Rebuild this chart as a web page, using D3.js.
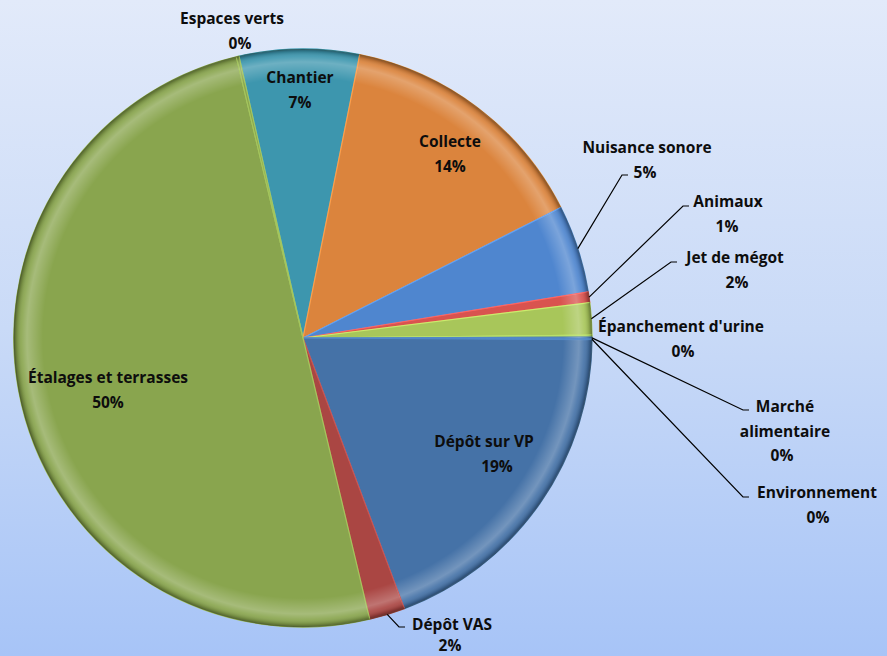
<!DOCTYPE html>
<html lang="fr">
<head>
<meta charset="UTF-8">
<title>Répartition des verbalisations</title>
<style>
  html, body { margin: 0; padding: 0; }
  body { width: 887px; height: 656px; overflow: hidden; }
  svg { display: block; }
  .lbl { font-family: "Open Sans", Lato, sans-serif; font-weight: bold; font-size: 15.5px; fill: #0d0d0d; }
</style>
</head>
<body>
<div id="chart"></div>
<script src="https://cdn.jsdelivr.net/npm/d3@7"></script>
<script>
// données (ordre des parts, dans le sens horaire)
var categories = ['Chantier', 'Collecte', 'Nuisance sonore', 'Animaux', 'Jet de mégot',
  "Épanchement d'urine", 'Marché alimentaire', 'Environnement', 'Dépôt sur VP',
  'Dépôt VAS', 'Étalages et terrasses', 'Espaces verts'];
var values = [6.7, 14.4, 4.9, 0.6, 1.8, 0.1, 0.1, 0.05, 19.2, 2.0, 50.0, 0.15];
var colors = ['#3d96ae', '#db843d', '#4f86cf', '#d9534f', '#a8c65a', '#9bbb59',
  '#4572a7', '#4572a7', '#4572a7', '#aa4643', '#89a54e', '#89a54e'];

var width = 887, height = 656;
var cx = 303, cy = 338, R = 289;
var startDeg = -12.8;

// position des étiquettes (lignes de texte, centre) et ligne de rappel
var labelPos = {
  'Chantier': { x: 300, y: 77, lines: ['Chantier'] },
  'Collecte': { x: 450, y: 141, lines: ['Collecte'] },
  'Nuisance sonore': { x: 647, y: 147, lines: ['Nuisance sonore'], px: 645, lead: [622, 175] },
  'Animaux': { x: 728, y: 201, lines: ['Animaux'], lead: [683, 206], px: 727 },
  'Jet de mégot': { x: 735, y: 257, lines: ['Jet de mégot'], lead: [671, 262], px: 737 },
  "Épanchement d'urine": { x: 681, y: 326, lines: ["Épanchement d'urine"], px: 683 },
  'Marché alimentaire': { x: 785, y: 406, lines: ['Marché', 'alimentaire'], lead: [743, 410], px: 782 },
  'Environnement': { x: 817, y: 492, lines: ['Environnement'], lead: [743, 497], px: 818 },
  'Dépôt sur VP': { x: 484, y: 441, lines: ['Dépôt sur VP'], px: 497 },
  'Dépôt VAS': { x: 452, y: 624, lines: ['Dépôt VAS'], lead: [399, 627], px: 450, lh: 21 },
  'Étalages et terrasses': { x: 108, y: 377, lines: ['Étalages et terrasses'] },
  'Espaces verts': { x: 232, y: 18, lines: ['Espaces verts'], px: 240 }
};

var svg = d3.select('#chart').append('svg')
  .attr('width', width)
  .attr('height', height);

var defs = svg.append('defs');

// fond dégradé bleu
var bg = defs.append('linearGradient').attr('id', 'bg')
  .attr('x1', 0).attr('y1', 0).attr('x2', 0).attr('y2', 1);
bg.append('stop').attr('offset', '0%').attr('stop-color', '#e2eafa');
bg.append('stop').attr('offset', '50%').attr('stop-color', '#c9daf7');
bg.append('stop').attr('offset', '100%').attr('stop-color', '#a7c4f7');

svg.append('rect').attr('width', width).attr('height', height).attr('fill', 'url(#bg)');

// effet biseau sur le bord
var bevel = defs.append('radialGradient').attr('id', 'bevel')
  .attr('gradientUnits', 'userSpaceOnUse')
  .attr('cx', 0).attr('cy', 0).attr('r', R);
[[0, '#ffffff', 0], [0.9, '#ffffff', 0], [0.955, '#ffffff', 0.25], [0.975, '#ffffff', 0.08],
 [0.99, '#000000', 0.15], [1, '#000000', 0.4]].forEach(function (s) {
  bevel.append('stop').attr('offset', s[0]).attr('stop-color', s[1]).attr('stop-opacity', s[2]);
});

var pie = d3.pie()
  .sort(null)
  .value(function (d) { return d; })
  .startAngle(startDeg * Math.PI / 180)
  .endAngle((startDeg + 360) * Math.PI / 180);

var arcs = pie(values);
var total = d3.sum(values);
var arc = d3.arc().innerRadius(0).outerRadius(R);

var g = svg.append('g').attr('transform', 'translate(' + cx + ',' + cy + ')');

var slices = g.selectAll('g.slice')
  .data(arcs)
  .enter().append('g')
  .attr('class', 'slice');

slices.append('path')
  .attr('d', arc)
  .attr('fill', function (d, i) { return colors[i]; })
  .attr('stroke', function (d, i) { return d3.color(colors[i]).brighter(0.5); })
  .attr('stroke-width', 1.2)
  .attr('stroke-linejoin', 'round');

slices.append('path')
  .attr('d', arc)
  .attr('fill', 'url(#bevel)');

g.append('circle')
  .attr('r', R)
  .attr('fill', 'none')
  .attr('stroke', 'rgba(40,50,30,0.35)')
  .attr('stroke-width', 1);

// étiquettes et lignes de rappel
var pct = d3.format('.0%');
var lineH = 24.5;

arcs.forEach(function (d, i) {
  var name = categories[i];
  var lp = labelPos[name];
  var lh = lp.lh || lineH;
  var mid = (d.startAngle + d.endAngle) / 2;
  if (lp.lead) {
    var sx = cx + R * Math.sin(mid), sy = cy - R * Math.cos(mid);
    svg.append('polyline')
      .attr('points', [[sx, sy], lp.lead, [lp.lead[0] + 6, lp.lead[1]]].join(' '))
      .attr('fill', 'none')
      .attr('stroke', '#000')
      .attr('stroke-width', 1.2);
  }
  var t = svg.append('g');
  lp.lines.forEach(function (ln, k) {
    t.append('text').attr('class', 'lbl')
      .attr('x', lp.x).attr('y', lp.y + k * lh)
      .attr('text-anchor', 'middle')
      .attr('dominant-baseline', 'central')
      .text(ln);
  });
  t.append('text').attr('class', 'lbl')
    .attr('x', lp.px !== undefined ? lp.px : lp.x)
    .attr('y', lp.y + lp.lines.length * lh)
    .attr('text-anchor', 'middle')
    .attr('dominant-baseline', 'central')
    .text(pct(values[i] / total));
});
</script>
</body>
</html>
